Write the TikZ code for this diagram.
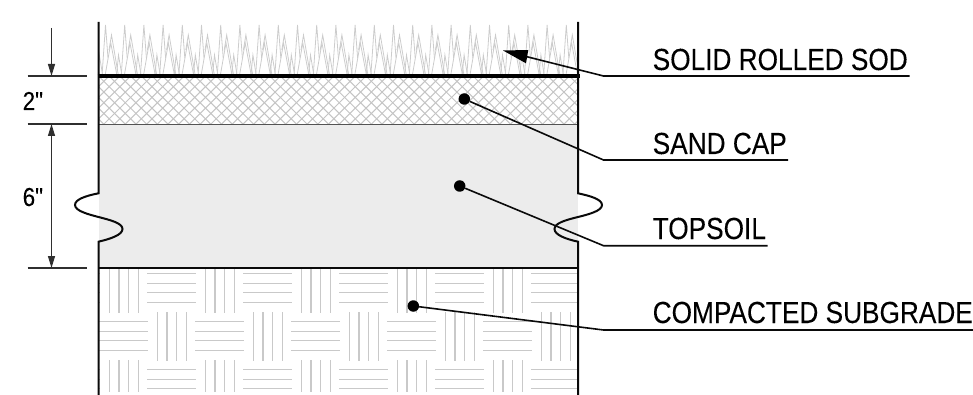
\documentclass[tikz,border=0pt]{standalone}
\usepackage{fontspec}
\setmainfont{Liberation Sans}
\newfontfamily\lblfont[FakeStretch=0.86,FakeBold=0.1]{Liberation Sans}
\usetikzlibrary{arrows.meta}
\definecolor{hatch}{HTML}{C4C4C4}
\definecolor{blade}{HTML}{CCCCCC}
\definecolor{soil}{HTML}{ECECEC}
\definecolor{ink}{HTML}{0A0A0A}
\tikzset{
  wall/.style={draw=ink,line width=2pt},
  hatchline/.style={draw=hatch,line width=1pt},
  bladeline/.style={draw=blade,line width=0.8pt},
  tile/.style={draw=soil!85!black,line width=1.2pt},
  leader/.style={draw=ink,line width=1.6pt},
  dimline/.style={draw=ink!85,line width=1.1pt},
  tick/.style={draw=ink!85,line width=1.2pt},
  dimarrow/.style={-{Triangle[length=12pt,width=7pt]}},
  dot/.style={circle,fill=black,inner sep=0pt,minimum size=11.5pt},
  lbl/.style={font=\fontsize{30.5}{30.5}\lblfont,anchor=base west,inner sep=0pt,text=black},
  dimtxt/.style={font=\fontsize{26}{26}\lblfont,anchor=base west,inner sep=0pt,text=black}
}
\begin{document}
\begin{tikzpicture}[x=1pt,y=-1pt]
\useasboundingbox (0,0) rectangle (973,395);
% topsoil fill
\fill[soil] (98.5,124) rectangle (578,268);
% grass
\begin{scope}
\clip (98.5,22) rectangle (578,76);
\foreach \i in {-1,...,25} {
  \begin{scope}[xshift=19.2*\i pt]
  \draw[bladeline] (102,76) -- (105.5,25) -- (108,58);
  \draw[bladeline] (105,76) -- (110.8,43) -- (117,76);
  \draw[bladeline] (109,50) -- (111.5,35) -- (118.5,76);
  \draw[bladeline] (116.5,76) -- (118.5,55) -- (122,76);
  \end{scope}
}
\end{scope}
% crosshatch
\begin{scope}
\clip (98.5,76) rectangle (578,124);
\foreach \i in {-5,...,50} {
  \draw[hatchline] (98.5+10.7*\i,76) -- ++(48,48);
  \draw[hatchline] (98.5+10.7*\i,76) -- ++(-48,48);
}
\end{scope}
% subgrade tiles
\begin{scope}
\clip (98.5,268) rectangle (578,391);
\foreach \i in {-1,...,5} {
  \foreach \j in {0,1,2} {
    \pgfmathsetmacro{\ox}{\i*96+48*mod(\j,2)}
    \pgfmathsetmacro{\oy}{\j*48}
    \foreach \d in {0,9.67,19.33,29} {
      \draw[tile] (109.3+\ox+\d,264+\oy) -- ++(0,49);
      \draw[tile] (147.3+\ox,273.5+\oy+\d) -- ++(48.7,0);
    }
  }
}
\end{scope}
% layer lines
\draw[draw=ink!70,line width=1.1pt] (98.5,124.3) -- (578,124.3);
\draw[draw=ink,line width=1.6pt] (98.5,268) -- (578,268);
\draw[draw=black,line width=3.4pt] (97.5,76) -- (579.5,76);
% walls
\draw[wall] (98.5,22) -- (98.5,193.3) .. controls (85,196) and (75,199.5) .. (75,205) .. controls (75,211) and (89,214.5) .. (98.5,217) .. controls (110,220) and (122.5,223) .. (122.5,229) .. controls (122.5,235) and (110,239) .. (98.5,241.7) -- (98.5,395);
\draw[wall] (578,22) -- (578,193.3) .. controls (591,196) and (602,199.5) .. (602,205) .. controls (602,211) and (588,214.5) .. (578,217) .. controls (566,220) and (554.5,223) .. (554.5,229) .. controls (554.5,235) and (566,239) .. (578,241.7) -- (578,395);
% dimensions
\coordinate (t0) at (27.5,76); \coordinate (t0e) at (87,76);
\coordinate (t1) at (27.5,124); \coordinate (t1e) at (87,124);
\coordinate (t2) at (27.5,268); \coordinate (t2e) at (87,268);
\coordinate (d0) at (51.5,28); \coordinate (d1) at (51.5,76);
\coordinate (d2) at (51.5,124); \coordinate (d3) at (51.5,268);
\coordinate (dm) at (51.5,196);
\draw[tick] (t0) -- (t0e); \draw[tick] (t1) -- (t1e); \draw[tick] (t2) -- (t2e);
\draw[dimline,dimarrow] (d0) -- (d1);
\draw[dimline,dimarrow] (dm) -- (d2);
\draw[dimline,dimarrow] (dm) -- (d3);
\node[dimtxt] (dim2) at (22.5,110) {2"};
\node[dimtxt] (dim6) at (22.5,206) {6"};
% labels
\node[lbl] (sod) at (652.5,70) {SOLID ROLLED SOD};
\node[lbl] (sand) at (652.5,154) {SAND CAP};
\node[lbl] (soil) at (652.5,239) {TOPSOIL};
\node[lbl] (sub) at (652.5,323) {COMPACTED SUBGRADE};
% leaders
\coordinate (e1) at (603.5,76); \coordinate (u1) at (909.5,76);
\coordinate (e2) at (603.5,160); \coordinate (u2) at (788,160);
\coordinate (e3) at (603.5,245.7); \coordinate (u3) at (767.5,245.7);
\coordinate (e4) at (603.5,330); \coordinate (u4) at (973,330);
\node[dot] (p2) at (464.3,99) {};
\node[dot] (p3) at (459.7,186) {};
\node[dot] (p4) at (413.3,306) {};
\coordinate (tip) at (503,50.5);
\draw[leader] (u1) -- (e1) -- (526,56.5);
\fill[black] (tip) -- (528.3,50) -- (526,63.3) -- cycle;
\draw[leader] (u2) -- (e2) -- (p2);
\draw[leader] (u3) -- (e3) -- (p3);
\draw[leader] (u4) -- (e4) -- (p4);
\end{tikzpicture}
\end{document}
